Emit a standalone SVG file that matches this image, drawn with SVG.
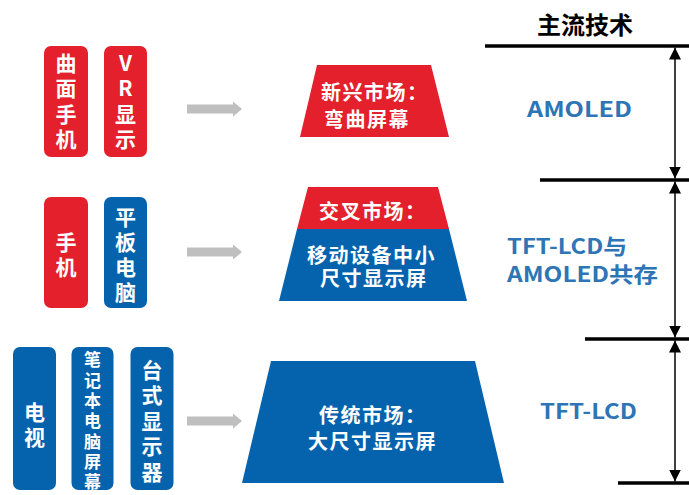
<svg xmlns="http://www.w3.org/2000/svg" width="689" height="495" viewBox="0 0 689 495">
<defs>
<style>
.red{fill:#E3202B}
.blue{fill:#0563AE}
.t{font-family:"Noto Sans CJK SC","Microsoft YaHei",sans-serif;font-weight:bold;dominant-baseline:central}
.w{fill:#fff}
.v{writing-mode:vertical-rl;text-orientation:upright;font-size:21px;letter-spacing:4.5px}
.vs{font-size:17px;letter-spacing:3.3px}
.tz{font-family:"Liberation Sans","Noto Sans CJK SC",sans-serif;font-size:20px;letter-spacing:1.5px}
.rt{fill:#2E75B6;font-size:21px}
.arr{fill:#BFBFBF}
.ln{stroke:#000;stroke-width:3.5}
.vl{stroke:#000;stroke-width:1.5}
</style>
<marker id="ah" viewBox="0 0 12 12" refX="12" refY="6" markerWidth="12" markerHeight="12" markerUnits="userSpaceOnUse" orient="auto">
<path d="M0,0 L12,6 L0,12 Z" fill="#000"/>
</marker>
</defs>
<rect width="689" height="495" fill="#fff"/>

<g id="curved-phone">
<rect class="red" x="44" y="46" width="44" height="111" rx="7"/>
<text class="t w v" x="66" y="52.5">曲面手机</text>
</g>
<g id="vr-display">
<rect class="red" x="104" y="46" width="43" height="111" rx="7"/>
<text class="t w v" x="125.5" y="52.5">VR显示</text>
</g>
<g id="phone">
<rect class="red" x="44" y="197" width="44" height="111" rx="7"/>
<text class="t w v" x="66" y="231.5">手机</text>
</g>
<g id="tablet">
<rect class="blue" x="104" y="197" width="43" height="111" rx="7"/>
<text class="t w v" x="125.5" y="206.5" style="letter-spacing:4px">平板电脑</text>
</g>
<g id="tv">
<rect class="blue" x="13" y="347" width="43" height="143" rx="7"/>
<text class="t w v" x="34.5" y="401.5" style="letter-spacing:4px">电视</text>
</g>
<g id="laptop">
<rect class="blue" x="71.5" y="347" width="42" height="143" rx="7"/>
<text class="t w v vs" x="92.5" y="351.5">笔记本电脑屏幕</text>
</g>
<g id="monitor">
<rect class="blue" x="130.5" y="347" width="43" height="143" rx="7"/>
<text class="t w v" x="152" y="359.5">台式显示器</text>
</g>

<g id="emerging-market">
<polygon class="red" points="317,65 431,65 449,137 300,137"/>
<text class="t w tz" x="321" y="93">新兴市场：</text>
<text class="t w tz" x="324" y="120">弯曲屏幕</text>
</g>
<g id="cross-market">
<polygon class="red" points="308,187 438,187 449,229 297,229"/>
<polygon class="blue" points="297,229 449,229 467,301 279,301"/>
<text class="t w tz" x="319" y="212">交叉市场：</text>
<text class="t w tz" x="307" y="256">移动设备中小</text>
<text class="t w tz" x="320" y="279">尺寸显示屏</text>
</g>
<g id="traditional-market">
<polygon class="blue" points="271,361 475,361 504,483 242,483"/>
<text class="t w tz" x="319" y="416">传统市场：</text>
<text class="t w tz" x="308" y="442">大尺寸显示屏</text>
</g>

<g id="tech-header">
<text class="t" x="585" y="23" font-size="24" text-anchor="middle" fill="#000">主流技术</text>
</g>
<g id="tech-labels">
<text class="t rt" x="527" y="108" textLength="105" lengthAdjust="spacingAndGlyphs">AMOLED</text>
<text class="t rt" x="507" y="245" textLength="120" lengthAdjust="spacingAndGlyphs">TFT-LCD与</text>
<text class="t rt" x="507" y="273" textLength="151" lengthAdjust="spacingAndGlyphs">AMOLED共存</text>
<text class="t rt" x="540" y="410" textLength="97" lengthAdjust="spacingAndGlyphs">TFT-LCD</text>
</g>

<g id="connectors">
<polygon class="arr" points="187,104.5 233,104.5 233,101.5 242,109 233,116.5 233,113.5 187,113.5"/>
<polygon class="arr" points="187,247.5 233,247.5 233,244.5 242,252 233,259.5 233,256.5 187,256.5"/>
<polygon class="arr" points="187,416.5 233,416.5 233,413.5 242,421 233,428.5 233,425.5 187,425.5"/>
<line class="ln" x1="485" y1="46" x2="689" y2="46"/>
<line class="ln" x1="540" y1="180" x2="689" y2="180"/>
<line class="ln" x1="585" y1="339" x2="689" y2="339"/>
<line class="ln" x1="618" y1="483" x2="689" y2="483"/>
<line class="vl" x1="675" y1="113" x2="675" y2="47.5" marker-end="url(#ah)"/>
<line class="vl" x1="675" y1="113" x2="675" y2="178.5" marker-end="url(#ah)"/>
<line class="vl" x1="675" y1="260" x2="675" y2="181.5" marker-end="url(#ah)"/>
<line class="vl" x1="675" y1="260" x2="675" y2="337.5" marker-end="url(#ah)"/>
<line class="vl" x1="675" y1="411" x2="675" y2="340.5" marker-end="url(#ah)"/>
<line class="vl" x1="675" y1="411" x2="675" y2="481.5" marker-end="url(#ah)"/>
</g>
</svg>
